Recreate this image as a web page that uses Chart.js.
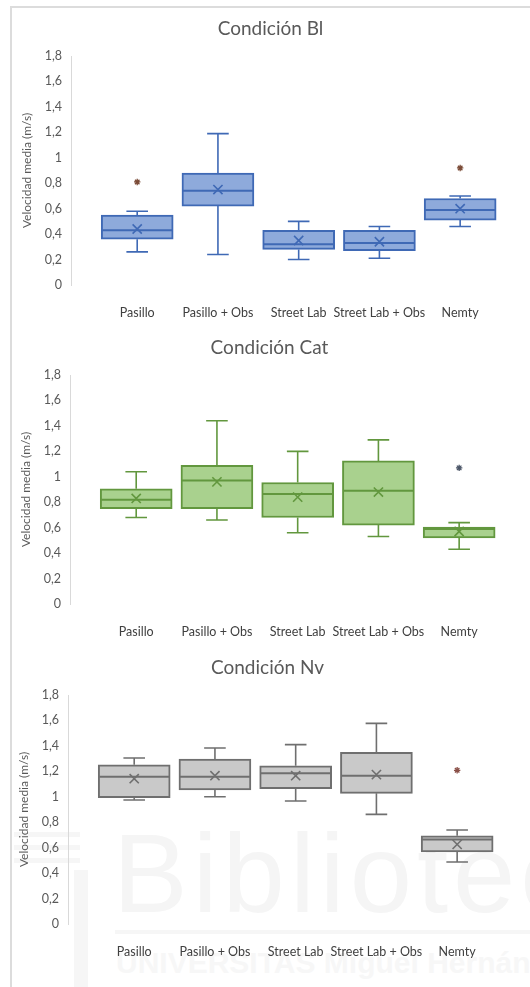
<!DOCTYPE html>
<html>
<head>
<meta charset="utf-8">
<script src="https://cdn.jsdelivr.net/npm/chart.js@4/dist/chart.umd.min.js"></script>
<style>
html,body{margin:0;padding:0;background:#fff;width:530px;height:987px;overflow:hidden;position:relative;}
#frame{position:absolute;left:10px;top:6px;width:540px;height:1000px;border-left:2px solid #dcdcdc;border-top:2px solid #dcdcdc;}
.wm{position:absolute;color:#f5f5f5;white-space:nowrap;font-family:'Liberation Sans',sans-serif;line-height:1;}
.stripe{position:absolute;background:#f6f6f6;}
canvas{position:absolute;}
</style>
</head>
<body>
<div id="frame"></div>
<div class="stripe" style="left:14px;top:832px;width:66px;height:5px"></div>
<div class="stripe" style="left:14px;top:845px;width:66px;height:5px"></div>
<div class="stripe" style="left:14px;top:858px;width:66px;height:5px"></div>
<div class="stripe" style="left:74px;top:870px;width:14px;height:117px"></div>
<div class="wm" style="left:113px;top:818px;font-size:112px;letter-spacing:5px;">Biblioteca</div>
<div class="stripe" style="left:115px;top:930px;width:415px;height:4px"></div>
<div class="wm" style="left:116px;top:948px;font-size:30px;font-weight:bold;color:#f7f7f7;font-family:'Liberation Sans Narrow','Liberation Sans',sans-serif;">UNIVERSITAS Miguel Hernández</div>

<canvas id="c1" width="515" height="318" style="left:13px;top:8px"></canvas>
<canvas id="c2" width="515" height="318" style="left:12px;top:327px"></canvas>
<canvas id="c3" width="515" height="318" style="left:10px;top:647px"></canvas>

<script>
// ---------- DATA ----------
const categories = ['Pasillo', 'Pasillo + Obs', 'Street Lab', 'Street Lab + Obs', 'Nemty'];
const yTickValues = [0, 0.2, 0.4, 0.6, 0.8, 1, 1.2, 1.4, 1.6, 1.8];
const yTickLabels = ['0', '0,2', '0,4', '0,6', '0,8', '1', '1,2', '1,4', '1,6', '1,8'];

// Condición Bl
const blMin      = [0.26, 0.24, 0.20, 0.21, 0.46];
const blQ1       = [0.36, 0.62, 0.28, 0.27, 0.51];
const blMedian   = [0.43, 0.74, 0.32, 0.33, 0.59];
const blQ3       = [0.55, 0.88, 0.43, 0.43, 0.68];
const blMax      = [0.58, 1.19, 0.50, 0.46, 0.70];
const blMean     = [0.44, 0.75, 0.35, 0.34, 0.60];
const blOutliers = [[0.81], [], [], [], [0.92]];

// Condición Cat
const catMin      = [0.68, 0.66, 0.56, 0.53, 0.43];
const catQ1       = [0.75, 0.75, 0.68, 0.62, 0.52];
const catMedian   = [0.82, 0.97, 0.865, 0.89, 0.59];
const catQ3       = [0.905, 1.09, 0.955, 1.125, 0.605];
const catMax      = [1.04, 1.44, 1.20, 1.29, 0.64];
const catMean     = [0.83, 0.96, 0.84, 0.88, 0.57];
const catOutliers = [[], [], [], [], [1.07]];

// Condición Nv
const nvMin      = [0.975, 1.00, 0.967, 0.862, 0.487];
const nvQ1       = [0.993, 1.053, 1.064, 1.027, 0.566];
const nvMedian   = [1.158, 1.158, 1.184, 1.166, 0.665];
const nvQ3       = [1.252, 1.297, 1.244, 1.349, 0.694];
const nvMax      = [1.305, 1.383, 1.41, 1.577, 0.739];
const nvMean     = [1.142, 1.166, 1.166, 1.174, 0.626];
const nvOutliers = [[], [], [], [], [1.208]];

// ---------- DRAWING ----------
const statsById = {};
const FONT = "Lato, 'Open Sans', sans-serif";

const boxPlugin = {
  id: 'boxWhiskers',
  beforeDatasetsDraw(chart) {
    const s = statsById[chart.canvas.id]; if (!s) return;
    const meta = chart.getDatasetMeta(0);
    const y = chart.scales.y, ctx = chart.ctx;
    ctx.save();
    ctx.strokeStyle = s.line; ctx.lineWidth = 1.6; ctx.lineCap = 'butt';
    meta.data.forEach((bar, i) => {
      const x = bar.x, cap = bar.width * 0.3;
      const yMin = y.getPixelForValue(s.min[i]), yMax = y.getPixelForValue(s.max[i]);
      const yQ1 = y.getPixelForValue(s.q1[i]), yQ3 = y.getPixelForValue(s.q3[i]);
      ctx.beginPath();
      ctx.moveTo(x, yQ3); ctx.lineTo(x, yMax);
      ctx.moveTo(x - cap / 2, yMax); ctx.lineTo(x + cap / 2, yMax);
      ctx.moveTo(x, yQ1); ctx.lineTo(x, yMin);
      ctx.moveTo(x - cap / 2, yMin); ctx.lineTo(x + cap / 2, yMin);
      ctx.stroke();
    });
    ctx.restore();
  },
  afterDatasetDraw(chart, args) {
    if (args.index !== 0) return;
    const s = statsById[chart.canvas.id]; if (!s) return;
    const y = chart.scales.y, ctx = chart.ctx;
    ctx.save();
    ctx.strokeStyle = s.line; ctx.lineWidth = 2;
    args.meta.data.forEach((bar, i) => {
      const ym = y.getPixelForValue(s.median[i]);
      ctx.beginPath();
      ctx.moveTo(bar.x - bar.width / 2 + 1, ym);
      ctx.lineTo(bar.x + bar.width / 2 - 1, ym);
      ctx.stroke();
    });
    ctx.restore();
  }
};

function makeChart(id, title, s) {
  statsById[id] = s;
  const outPts = [];
  s.outliers.forEach((arr, i) => arr.forEach(v => outPts.push({ x: i + 1, y: v })));
  new Chart(document.getElementById(id), {
    type: 'bar',
    data: {
      datasets: [
        {
          type: 'bar',
          data: categories.map((c, i) => ({ x: i + 1, y: [s.q1[i], s.q3[i]] })),
          backgroundColor: s.fill, borderColor: s.line, borderWidth: 2,
          borderSkipped: false, barThickness: 72, grouped: false, order: 3
        },
        {
          type: 'scatter',
          data: categories.map((c, i) => ({ x: i + 1, y: s.mean[i] })),
          pointStyle: 'crossRot', radius: 6.5, borderColor: s.line, borderWidth: 1.6,
          backgroundColor: 'rgba(0,0,0,0)', order: 1
        },
        {
          type: 'scatter',
          data: outPts,
          pointStyle: 'star', radius: 3.2, borderColor: s.out, borderWidth: 1.3,
          backgroundColor: s.out, order: 1
        }
      ]
    },
    options: {
      responsive: false, animation: false, devicePixelRatio: 1,
      layout: { padding: { left: 0, right: 0, top: 0, bottom: 0 } },
      plugins: {
        legend: { display: false }, tooltip: { enabled: false },
        title: {
          display: true, text: title, color: '#595959',
          font: { family: FONT, size: 19, weight: 'normal' },
          padding: { top: 9.6, bottom: 15.6 }
        }
      },
      scales: {
        x: {
          type: 'linear', min: 0.18, max: 5.74, offset: false,
          grid: { display: true, drawOnChartArea: false, drawTicks: false },
          border: { display: false },
          afterBuildTicks: sc => { sc.ticks = categories.map((c, i) => ({ value: i + 1 })); },
          afterFit: sc => { sc.height = 41; },
          ticks: {
            autoSkip: false, maxRotation: 0, padding: 20, color: '#404040',
            font: { family: FONT, size: 12.5 },
            callback: v => categories[v - 1]
          }
        },
        y: {
          min: 0, max: 1.8,
          grid: { display: true, drawOnChartArea: false, drawTicks: false },
          border: { display: true, color: '#d9d9d9', width: 1 },
          afterBuildTicks: sc => { sc.ticks = yTickValues.map(v => ({ value: v })); },
          afterFit: sc => { sc.width = 58; },
          ticks: {
            padding: 9, color: '#595959', font: { family: FONT, size: 12.5 },
            callback: (v, i) => yTickLabels[i]
          },
          title: {
            display: true, text: 'Velocidad media (m/s)', color: '#595959',
            font: { family: FONT, size: 12 }, padding: { top: 7, bottom: 0 }
          }
        }
      }
    },
    plugins: [boxPlugin]
  });
}

function init() {
  makeChart('c1', 'Condición Bl', {
    min: blMin, q1: blQ1, median: blMedian, q3: blQ3, max: blMax, mean: blMean, outliers: blOutliers,
    fill: '#8eaadb', line: '#3f69b5', out: '#7a4a36'
  });
  makeChart('c2', 'Condición Cat', {
    min: catMin, q1: catQ1, median: catMedian, q3: catQ3, max: catMax, mean: catMean, outliers: catOutliers,
    fill: '#a9d18e', line: '#62973e', out: '#4a5466'
  });
  makeChart('c3', 'Condición Nv', {
    min: nvMin, q1: nvQ1, median: nvMedian, q3: nvQ3, max: nvMax, mean: nvMean, outliers: nvOutliers,
    fill: '#c9c9c9', line: '#6f6f6f', out: '#8a5048'
  });
}
if (document.fonts && document.fonts.load) {
  Promise.all([document.fonts.load('12px Lato'), document.fonts.load('19px Lato')]).then(init, init);
} else { init(); }
</script>
</body>
</html>
